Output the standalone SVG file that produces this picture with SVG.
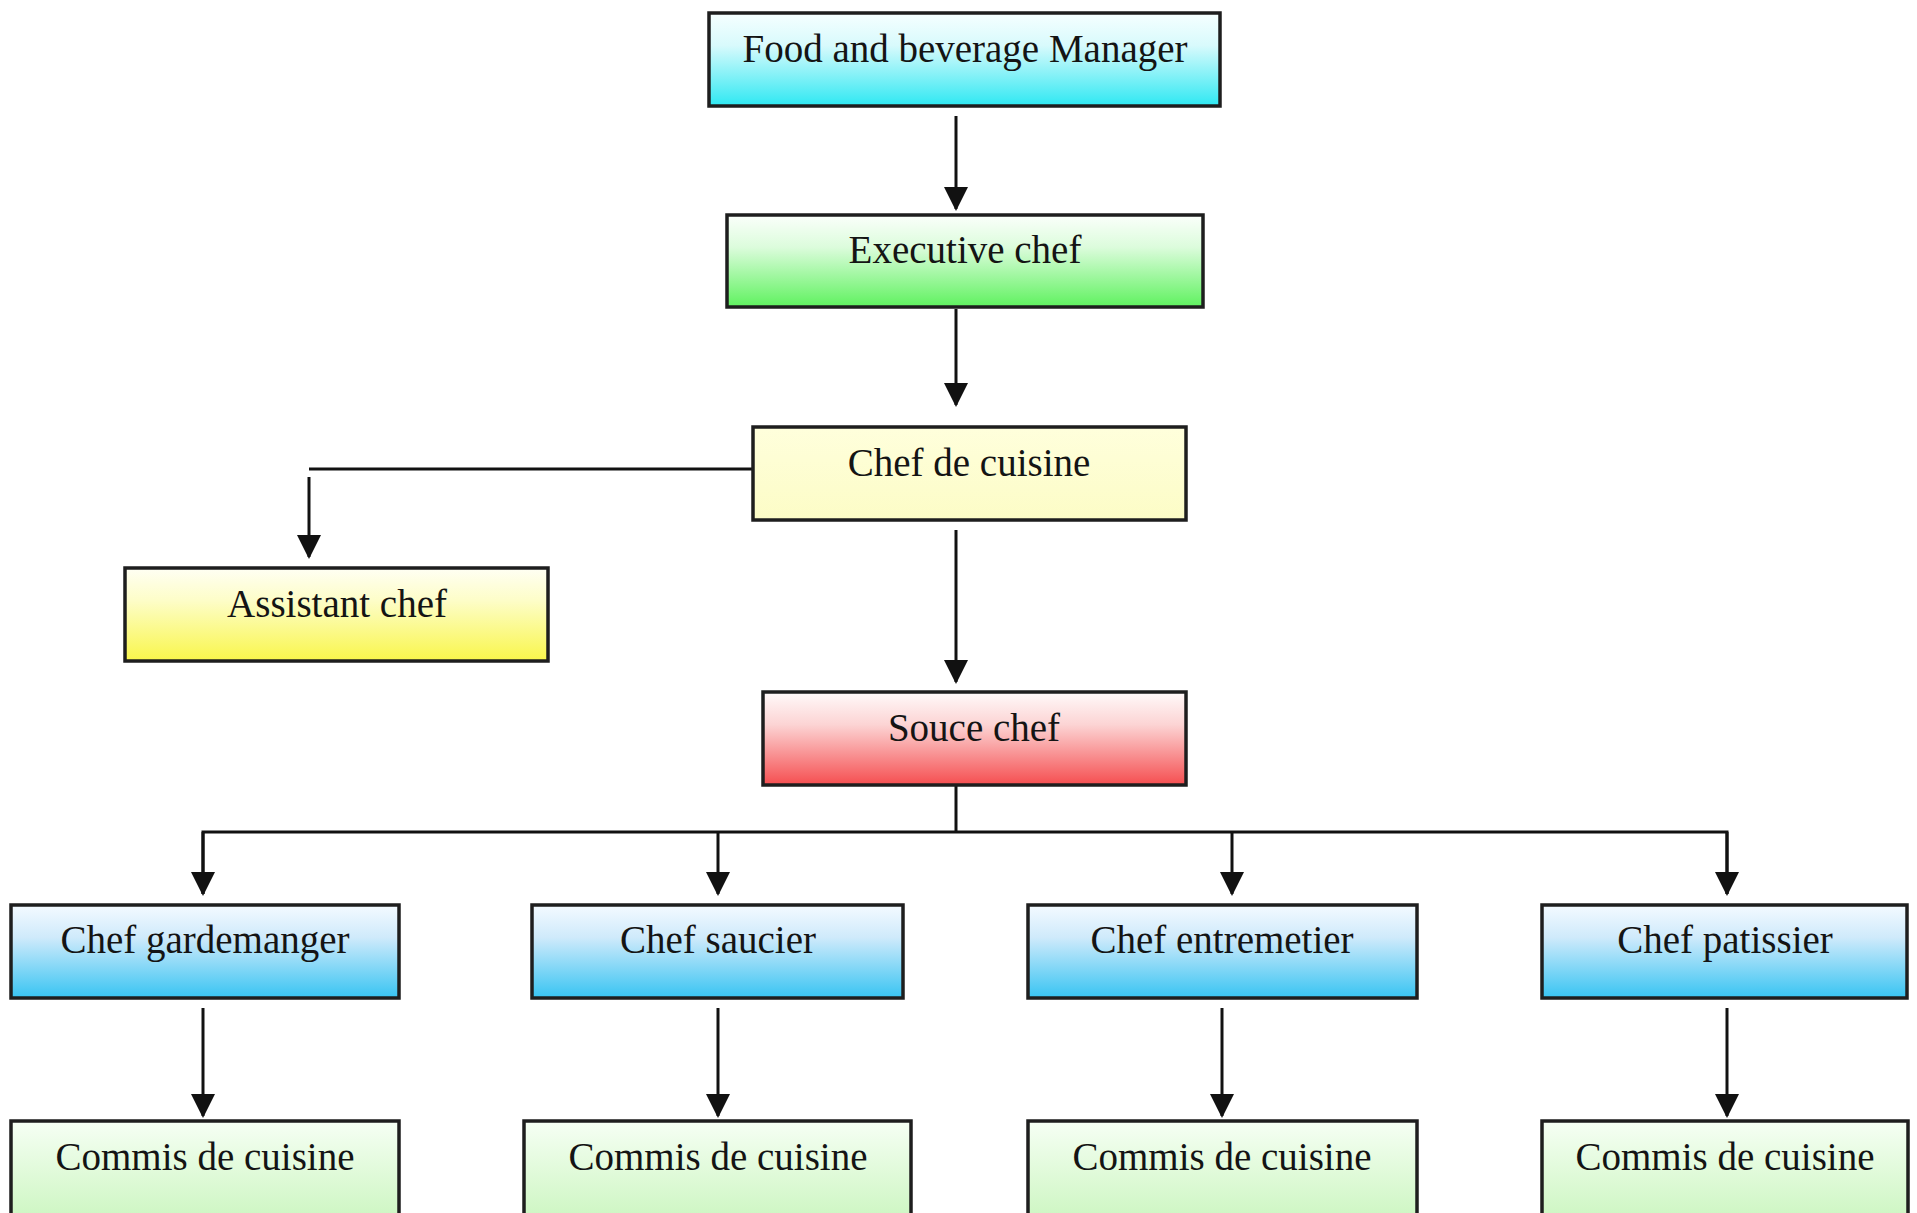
<svg xmlns="http://www.w3.org/2000/svg" width="1917" height="1213" viewBox="0 0 1917 1213">
  <style>
    .box { stroke: #1e1e1e; stroke-width: 3.5; }
    .lbl { font-family: "Liberation Serif", "Times New Roman", serif; font-size: 39px; fill: #141414; text-anchor: middle; }
    .con { stroke: #111; stroke-width: 3; fill: none; }
    .arr { stroke: #111; stroke-width: 3; fill: none; marker-end: url(#ah); }
  </style>
  <defs>
    <marker id="ah" markerUnits="userSpaceOnUse" markerWidth="24" markerHeight="24" refX="22" refY="12" orient="auto">
      <path d="M0,0 L24,12 L0,24 Z" fill="#111"/>
    </marker>
    <linearGradient id="gCyan" x1="0" y1="0" x2="0" y2="1">
      <stop offset="0" stop-color="#f6ffff"/>
      <stop offset="0.35" stop-color="#d8fafc"/>
      <stop offset="1" stop-color="#2ee8f2"/>
    </linearGradient>
    <linearGradient id="gGreen" x1="0" y1="0" x2="0" y2="1">
      <stop offset="0" stop-color="#fbfffb"/>
      <stop offset="0.35" stop-color="#dcfcdc"/>
      <stop offset="1" stop-color="#5ff25f"/>
    </linearGradient>
    <linearGradient id="gCream" x1="0" y1="0" x2="0" y2="1">
      <stop offset="0" stop-color="#ffffdc"/>
      <stop offset="1" stop-color="#fcfcc6"/>
    </linearGradient>
    <linearGradient id="gYellow" x1="0" y1="0" x2="0" y2="1">
      <stop offset="0" stop-color="#fffff4"/>
      <stop offset="0.35" stop-color="#fdfdc8"/>
      <stop offset="1" stop-color="#f9f64a"/>
    </linearGradient>
    <linearGradient id="gRed" x1="0" y1="0" x2="0" y2="1">
      <stop offset="0" stop-color="#fffafa"/>
      <stop offset="0.35" stop-color="#fcd4d4"/>
      <stop offset="1" stop-color="#f54e50"/>
    </linearGradient>
    <linearGradient id="gBlue" x1="0" y1="0" x2="0" y2="1">
      <stop offset="0" stop-color="#f4faff"/>
      <stop offset="0.35" stop-color="#cfeafb"/>
      <stop offset="1" stop-color="#38c4f2"/>
    </linearGradient>
    <linearGradient id="gMint" x1="0" y1="0" x2="0" y2="1">
      <stop offset="0" stop-color="#f6fff4"/>
      <stop offset="1" stop-color="#c8f5bc"/>
    </linearGradient>
  </defs>
  <rect width="1917" height="1213" fill="#ffffff"/>

  <g id="connectors">
    <path class="arr" d="M956,116 V209"/>
    <path class="arr" d="M956,309 V405"/>
    <path class="con" d="M753,469 H309"/>
    <path class="arr" d="M309,477 V557"/>
    <path class="arr" d="M956,530 V682"/>
    <path class="con" d="M956,786 V832"/>
    <path class="con" d="M203,894 V832 H1727 V894"/>
    <path class="arr" d="M203,832 V894"/>
    <path class="arr" d="M718,832 V894"/>
    <path class="arr" d="M1232,832 V894"/>
    <path class="arr" d="M1727,832 V894"/>
    <path class="arr" d="M203,1008 V1116"/>
    <path class="arr" d="M718,1008 V1116"/>
    <path class="arr" d="M1222,1008 V1116"/>
    <path class="arr" d="M1727,1008 V1116"/>
  </g>

  <g id="food-beverage-manager">
    <rect class="box" x="709" y="13" width="511" height="93" fill="url(#gCyan)"/>
    <text class="lbl" x="965" y="62">Food and beverage Manager</text>
  </g>
  <g id="executive-chef">
    <rect class="box" x="727" y="215" width="476" height="92" fill="url(#gGreen)"/>
    <text class="lbl" x="965" y="263">Executive chef</text>
  </g>
  <g id="chef-de-cuisine">
    <rect class="box" x="753" y="427" width="433" height="93" fill="url(#gCream)"/>
    <text class="lbl" x="969" y="476">Chef de cuisine</text>
  </g>
  <g id="assistant-chef">
    <rect class="box" x="125" y="568" width="423" height="93" fill="url(#gYellow)"/>
    <text class="lbl" x="337" y="617">Assistant chef</text>
  </g>
  <g id="souce-chef">
    <rect class="box" x="763" y="692" width="423" height="93" fill="url(#gRed)"/>
    <text class="lbl" x="974" y="741">Souce chef</text>
  </g>

  <g id="chef-gardemanger">
    <rect class="box" x="11" y="905" width="388" height="93" fill="url(#gBlue)"/>
    <text class="lbl" x="205" y="953">Chef gardemanger</text>
  </g>
  <g id="chef-saucier">
    <rect class="box" x="532" y="905" width="371" height="93" fill="url(#gBlue)"/>
    <text class="lbl" x="718" y="953">Chef saucier</text>
  </g>
  <g id="chef-entremetier">
    <rect class="box" x="1028" y="905" width="389" height="93" fill="url(#gBlue)"/>
    <text class="lbl" x="1222" y="953">Chef entremetier</text>
  </g>
  <g id="chef-patissier">
    <rect class="box" x="1542" y="905" width="365" height="93" fill="url(#gBlue)"/>
    <text class="lbl" x="1725" y="953">Chef patissier</text>
  </g>

  <g id="commis-1">
    <rect class="box" x="11" y="1121" width="388" height="110" fill="url(#gMint)"/>
    <text class="lbl" x="205" y="1170">Commis de cuisine</text>
  </g>
  <g id="commis-2">
    <rect class="box" x="524" y="1121" width="387" height="110" fill="url(#gMint)"/>
    <text class="lbl" x="718" y="1170">Commis de cuisine</text>
  </g>
  <g id="commis-3">
    <rect class="box" x="1028" y="1121" width="389" height="110" fill="url(#gMint)"/>
    <text class="lbl" x="1222" y="1170">Commis de cuisine</text>
  </g>
  <g id="commis-4">
    <rect class="box" x="1542" y="1121" width="366" height="110" fill="url(#gMint)"/>
    <text class="lbl" x="1725" y="1170">Commis de cuisine</text>
  </g>
</svg>
